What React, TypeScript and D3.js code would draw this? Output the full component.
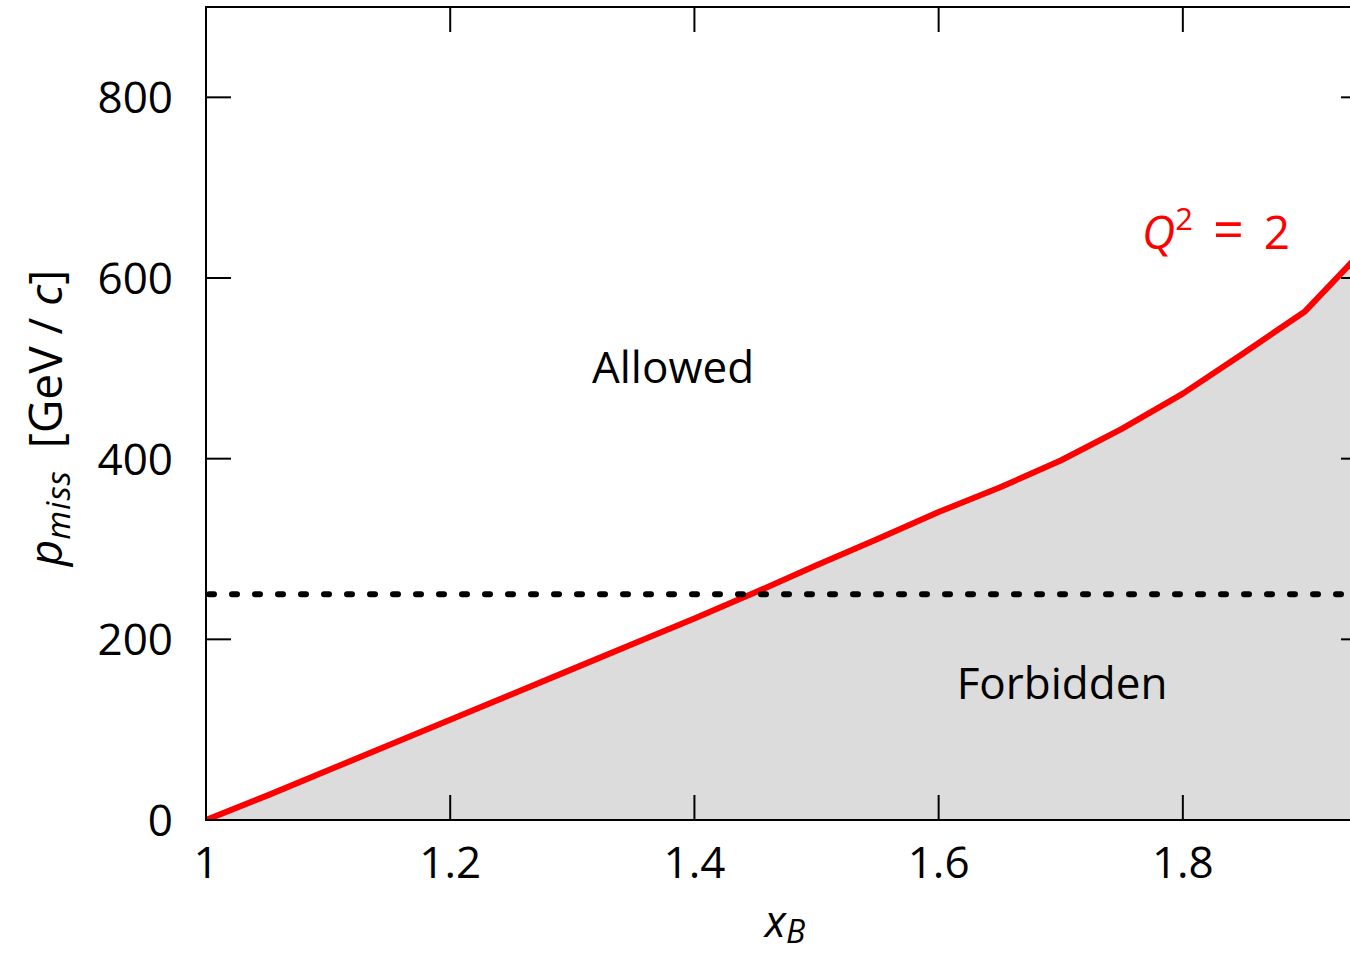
import React from 'react';
import * as d3 from 'd3';

// Q^2 = 2 kinematic limit
const xB = [1.0, 1.05, 1.1, 1.15, 1.2, 1.25, 1.3, 1.35, 1.4, 1.45, 1.5, 1.55, 1.6, 1.65, 1.7, 1.75, 1.8, 1.85, 1.9, 1.95];
const pMiss = [0, 27, 55, 83, 111, 139, 167, 195, 223, 252, 282, 311, 341, 368, 398, 433, 472, 517, 563, 634];
const cutValue = [250];
const xTicks = [1, 1.2, 1.4, 1.6, 1.8];
const yTicks = [0, 200, 400, 600, 800];

const W = 1350;
const H = 953;
const left = 206, top = 7, right = 1366, bottom = 820;
const TICK = 25;
const FONT = '"Open Sans", "Liberation Sans", Arial, sans-serif';

export default function App() {
  const x = d3.scaleLinear().domain([1, 1.95]).range([left, right]);
  const y = d3.scaleLinear().domain([0, 900]).range([bottom, top]);

  const pts = xB.map((v, i) => [v, pMiss[i]] as [number, number]);
  const line = d3.line<[number, number]>().x(d => x(d[0])).y(d => y(d[1]));
  const area = d3.area<[number, number]>().x(d => x(d[0])).y0(y(0)).y1(d => y(d[1]));

  return (
    <svg width={W} height={H} style={{ position: 'absolute', left: 0, top: 0, background: '#fff' }}
      fontFamily={FONT}>
      <defs>
        <clipPath id="plot">
          <rect x={left} y={top} width={right - left} height={bottom - top} />
        </clipPath>
      </defs>

      <g clipPath="url(#plot)">
        <path d={area(pts) || ''} fill="#dcdcdc" />
        <path d={line(pts) || ''} fill="none" stroke="#ff0000" strokeWidth={6} strokeLinejoin="round" />
        {cutValue.map(c => (
          <line key={c} x1={x(1) + 3} x2={right} y1={y(c)} y2={y(c)} stroke="#000" strokeWidth={6}
            strokeLinecap="round" strokeDasharray="5 18" />
        ))}
      </g>

      {/* frame */}
      <rect x={left} y={top} width={right - left} height={bottom - top} fill="none" stroke="#000" strokeWidth={2} />

      {/* ticks */}
      {xTicks.map(t => (
        <g key={'x' + t}>
          <line x1={x(t)} x2={x(t)} y1={bottom} y2={bottom - TICK} stroke="#000" strokeWidth={2} />
          <line x1={x(t)} x2={x(t)} y1={top} y2={top + TICK} stroke="#000" strokeWidth={2} />
          <text x={x(t)} y={878} textAnchor="middle" fontSize={44} fill="#000">{t}</text>
        </g>
      ))}
      {yTicks.map(t => (
        <g key={'y' + t}>
          <line x1={left} x2={left + TICK} y1={y(t)} y2={y(t)} stroke="#000" strokeWidth={2} />
          <line x1={right} x2={right - TICK} y1={y(t)} y2={y(t)} stroke="#000" strokeWidth={2} />
          <text x={173} y={y(t)} dy="0.36em" textAnchor="end" fontSize={44} fill="#000">{t}</text>
        </g>
      ))}

      {/* axis titles */}
      <text x={785} y={937} textAnchor="middle" fontSize={44} fill="#000">
        <tspan fontStyle="italic">x</tspan>
        <tspan fontStyle="italic" fontSize={32} dy={6}>B</tspan>
      </text>
      <text transform="translate(62,418) rotate(-90)" textAnchor="middle" fontSize={46} fill="#000">
        <tspan fontStyle="italic">p</tspan>
        <tspan fontStyle="italic" fontSize={33} dy={8} letterSpacing={1}>miss</tspan>
        <tspan dy={-8} dx={22}>{'[GeV / '}</tspan>
        <tspan fontStyle="italic">c</tspan>
        <tspan>]</tspan>
      </text>

      {/* annotations */}
      <text x={673} y={383} textAnchor="middle" fontSize={44} fill="#000">Allowed</text>
      <text x={1062} y={699} textAnchor="middle" fontSize={44} fill="#000">Forbidden</text>
      <text x={1142} y={249} fontSize={46} fill="#ff0000">
        <tspan fontStyle="italic">Q</tspan>
        <tspan fontSize={31} dy={-19}>2</tspan>
        <tspan dy={19} dx={20} fontSize={54}>=</tspan>
        <tspan dx={20}>2</tspan>
      </text>
    </svg>
  );
}
